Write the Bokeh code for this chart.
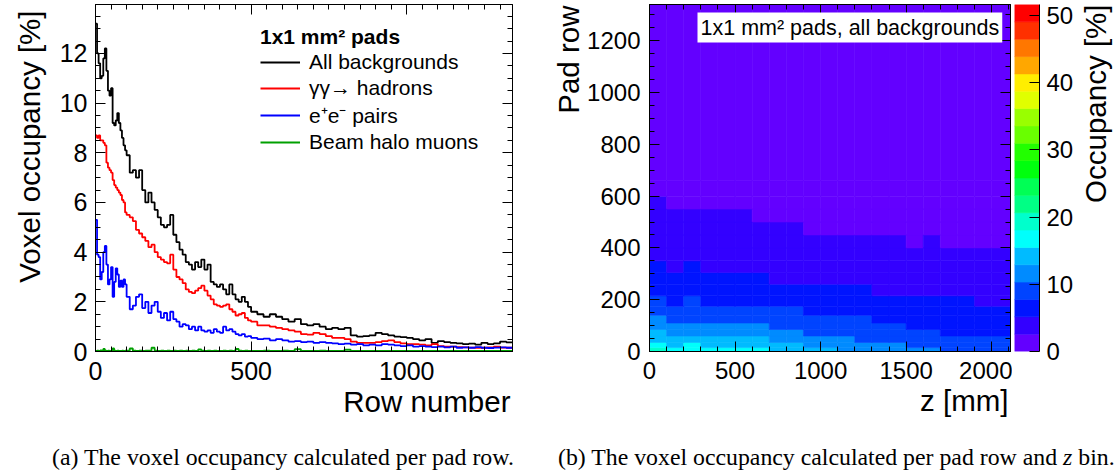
from bokeh.plotting import figure
from bokeh.models import (Range1d, LinearAxis, SingleIntervalTicker, Label, Legend, Title,
                          LegendItem, LinearColorMapper, ColumnDataSource, Div)
from bokeh.layouts import row, column
from bokeh.transform import transform
from bokeh.embed import file_html
from bokeh.resources import INLINE

FONT = "Liberation Sans"

# ---------------- left panel: voxel occupancy per pad row [%] ----------------
row_bin_edges = list(range(0, 100, 5)) + list(range(100, 500, 10)) + list(range(500, 1341, 20))

occ_all = [13.2, 12.0, 11.6, 11.0, 11.1, 11.8, 12.2, 11.3, 10.5, 10.3,
           10.6, 9.2, 9.1, 9.3, 9.6, 9.2, 8.9, 8.6, 8.3, 8.1,
           7.9, 7.2, 7.3, 7.0, 7.3, 6.5, 6.0, 6.4, 6.0, 5.7,
           5.4, 5.1, 5.0, 5.1, 5.5, 4.7, 4.4, 4.1, 3.9, 3.6,
           3.5, 3.3, 3.6, 3.4, 3.7, 3.3, 3.5, 2.8, 2.7, 2.6,
           2.7, 2.5, 2.3, 2.7, 2.3, 2.1, 2.0, 2.2, 2.0, 1.8,
           1.6, 1.5, 1.4, 1.5, 1.4, 1.3, 1.2, 1.3, 1.1, 1.05,
           1.1, 1.0, 0.9, 0.95, 0.9, 0.95, 0.65, 0.6, 0.62, 0.65,
           0.75, 0.7, 0.65, 0.6, 0.58, 0.55, 0.5, 0.45, 0.5, 0.35,
           0.42, 0.38, 0.35, 0.33, 0.3, 0.32, 0.28, 0.35, 0.3, 0.33,
           0.4, 0.37]
occ_gg = [8.7, 8.6, 8.7, 8.5, 8.5, 8.4, 8.3, 7.6, 7.4, 7.3,
          7.2, 6.9, 6.7, 6.6, 6.5, 6.4, 6.3, 6.1, 6.0, 5.6,
          5.5, 5.4, 5.25, 4.9, 4.75, 4.6, 4.45, 4.2, 4.3, 4.0,
          3.8, 3.7, 3.6, 3.55, 3.9, 3.3, 3.0, 2.9, 2.75, 2.5,
          2.4, 2.35, 2.45, 2.55, 2.65, 2.45, 2.25, 2.1, 1.9, 1.85,
          1.8, 1.85, 1.9, 1.7, 1.6, 1.45, 1.5, 1.55, 1.35, 1.25,
          1.2, 1.05, 1.05, 1.0, 0.95, 0.9, 0.85, 0.8, 0.7, 0.68,
          0.75, 0.7, 0.62, 0.55, 0.55, 0.5, 0.4, 0.35, 0.35, 0.35,
          0.38, 0.42, 0.45, 0.38, 0.33, 0.3, 0.3, 0.28, 0.25, 0.3,
          0.22, 0.2, 0.2, 0.18, 0.17, 0.16, 0.15, 0.15, 0.17, 0.2,
          0.16, 0.15]
occ_pairs = [5.3, 3.9, 3.8, 2.9, 3.2, 4.0, 4.25, 3.5, 2.7, 2.9,
             3.4, 2.2, 2.8, 3.35, 3.1, 2.6, 2.85, 2.6, 2.9, 2.7,
             2.2, 1.7, 1.85, 2.2, 2.3, 1.75, 2.0, 1.55, 1.85, 2.0,
             1.6, 1.35, 1.55, 1.25, 1.6, 1.3, 1.2, 1.0, 1.1, 1.05,
             0.9, 1.0, 0.85, 1.0, 0.85, 0.8, 0.85, 0.75, 0.9, 0.8,
             0.75, 1.0, 0.85, 0.9, 0.8, 0.7, 0.65, 0.7, 0.6, 0.62,
             0.55, 0.5, 0.52, 0.45, 0.5, 0.45, 0.4, 0.42, 0.38, 0.4,
             0.35, 0.38, 0.35, 0.33, 0.3, 0.32, 0.28, 0.3, 0.25, 0.28,
             0.25, 0.3, 0.28, 0.25, 0.22, 0.25, 0.2, 0.22, 0.2, 0.18,
             0.2, 0.17, 0.2, 0.15, 0.17, 0.15, 0.18, 0.15, 0.14, 0.16,
             0.17, 0.15]
occ_halo = [0.02, 0.03, 0.02, 0.04, 0.03, 0.1, 0.03, 0.02, 0.03, 0.02,
            0.03, 0.12, 0.03, 0.02, 0.03, 0.02, 0.02, 0.03, 0.02, 0.03,
            0.03, 0.12, 0.03, 0.02, 0.03, 0.02, 0.03, 0.03, 0.15, 0.03,
            0.02, 0.03, 0.02, 0.03, 0.02, 0.03, 0.02, 0.03, 0.02, 0.03,
            0.02, 0.03, 0.02, 0.08, 0.03, 0.02, 0.03, 0.02, 0.03, 0.02,
            0.02, 0.03, 0.02, 0.03, 0.02, 0.1, 0.03, 0.02, 0.03, 0.02,
            0.02, 0.02, 0.03, 0.02, 0.02, 0.03, 0.02, 0.09, 0.02, 0.02,
            0.02, 0.03, 0.02, 0.02, 0.02, 0.07, 0.02, 0.02, 0.02, 0.02,
            0.02, 0.02, 0.02, 0.02, 0.02, 0.02, 0.02, 0.02, 0.02, 0.02,
            0.02, 0.02, 0.02, 0.02, 0.02, 0.02, 0.02, 0.02, 0.02, 0.02,
            0.02, 0.02]
series_labels = ["All backgrounds", "\u03b3\u03b3\u2192 hadrons", "e\u207ae\u207b pairs", "Beam halo muons"]
legend_title = "1x1 mm\u00b2 pads"

# ---------------- right panel: occupancy per pad row and z bin [%] ----------------
z_edges = list(range(0, 2001, 100)) + [2110]
pad_edges = [0, 15, 35, 60, 85, 110, 140, 175, 215, 260, 305, 350, 400, 450, 500, 550, 600, 660, 1340]
occ_map = [
    [18.2, 17.3, 17.8, 17.2, 17.6, 16.8, 16.5, 15.2, 14.9, 13.6, 13.4, 12.7, 12.6, 11.9, 11.8, 11.1, 11.0, 10.3, 10.2, 9.6, 9.5],
    [16.1, 15.3, 15.6, 15.2, 15.4, 14.9, 14.6, 13.6, 13.2, 12.2, 11.9, 11.3, 11.2, 10.6, 10.5, 9.9, 9.8, 9.2, 9.1, 8.6, 8.5],
    [14.6, 13.8, 14.1, 13.7, 13.9, 13.5, 13.2, 12.3, 12.0, 11.1, 10.9, 10.4, 10.3, 9.7, 9.7, 9.0, 9.0, 8.5, 8.4, 7.9, 7.8],
    [13.1, 12.3, 12.6, 12.2, 12.4, 12.0, 11.9, 11.1, 10.9, 10.1, 9.9, 9.4, 9.4, 8.8, 8.8, 8.2, 8.2, 7.7, 7.6, 7.1, 7.1],
    [11.7, 11.0, 11.3, 10.9, 11.1, 10.8, 10.7, 10.0, 9.8, 9.2, 9.1, 8.6, 8.6, 8.1, 8.1, 7.6, 7.6, 7.1, 7.1, 6.6, 6.6],
    [10.5, 9.8, 10.1, 9.7, 9.9, 9.6, 9.6, 9.0, 8.8, 8.3, 8.2, 7.8, 7.8, 7.4, 7.4, 6.9, 6.9, 6.5, 6.5, 6.1, 6.1],
    [9.3, 8.6, 8.9, 8.5, 8.7, 8.5, 8.4, 7.9, 7.8, 7.3, 7.3, 7.0, 7.0, 6.6, 6.6, 6.3, 6.3, 5.9, 5.9, 5.6, 5.6],
    [8.1, 7.5, 7.8, 7.4, 7.7, 7.4, 7.4, 6.9, 6.9, 6.4, 6.4, 6.1, 6.1, 5.8, 5.9, 5.5, 5.6, 5.3, 5.3, 5.0, 5.1],
    [7.1, 6.5, 6.8, 6.4, 6.7, 6.4, 6.4, 6.0, 6.0, 5.5, 5.5, 5.2, 5.3, 5.0, 5.1, 4.8, 4.9, 4.6, 4.7, 4.4, 4.4],
    [6.2, 5.6, 5.9, 5.5, 5.8, 5.5, 5.6, 5.1, 5.1, 4.7, 4.7, 4.5, 4.6, 4.3, 4.4, 4.1, 4.2, 3.9, 4.0, 3.8, 3.8],
    [5.5, 4.9, 5.2, 4.8, 5.1, 4.9, 4.9, 4.5, 4.4, 4.0, 4.0, 3.8, 3.9, 3.7, 3.8, 3.5, 3.6, 3.4, 3.5, 3.3, 3.3],
    [4.7, 4.2, 4.5, 4.2, 4.4, 4.2, 4.2, 3.8, 3.8, 3.4, 3.5, 3.2, 3.3, 3.1, 3.2, 3.0, 3.1, 2.9, 3.0, 2.7, 2.8],
    [4.0, 3.5, 3.8, 3.5, 3.7, 3.5, 3.5, 3.1, 3.2, 2.8, 2.9, 2.6, 2.8, 2.6, 2.7, 2.4, 2.6, 2.4, 2.5, 2.3, 2.4],
    [3.3, 2.9, 3.2, 2.9, 3.1, 2.9, 2.9, 2.6, 2.7, 2.4, 2.5, 2.2, 2.4, 2.2, 2.3, 2.1, 2.2, 2.0, 2.1, 2.0, 2.0],
    [2.8, 2.6, 2.7, 2.6, 2.7, 2.6, 2.4, 2.2, 2.3, 2.0, 2.1, 1.9, 2.0, 1.8, 1.9, 1.8, 1.8, 1.7, 1.8, 1.6, 1.7],
    [2.6, 2.2, 2.4, 2.1, 2.3, 2.1, 2.0, 1.9, 1.9, 1.8, 1.8, 1.7, 1.7, 1.6, 1.7, 1.6, 1.6, 1.5, 1.6, 1.5, 1.5],
    [2.0, 1.8, 2.1, 1.8, 1.9, 1.7, 1.7, 1.6, 1.6, 1.5, 1.5, 1.5, 1.4, 1.4, 1.4, 1.3, 1.4, 1.3, 1.3, 1.2, 1.3],
    [1.1, 1.0, 1.1, 1.0, 1.0, 1.0, 0.9, 0.9, 0.9, 0.9, 0.8, 0.8, 0.8, 0.8, 0.8, 0.8, 0.7, 0.7, 0.7, 0.7, 0.7],
]
map_label = "1x1 mm\u00b2 pads, all backgrounds"

# axis ranges / ticks
row_max = 1340
occ1_max = 13.97
z_max = 2110
pad_max = 1340
occ_max = 51.6

# ---------------- styles ----------------
line_colors = ["#000000", "#ff0000", "#0000ff", "#00a000"]
palette = ["#6300ff", "#3300ff", "#0014ff", "#0044ff", "#008bff", "#00bbff", "#00fffc",
           "#00ffcc", "#00ff85", "#00ff55", "#00ff0e", "#22ff00", "#69ff00", "#99ff00",
           "#e0ff00", "#ffee00", "#ffa700", "#ff7700", "#ff3000", "#ff0000"]
TICK = "25px"
TICK2 = "24px"
TITLE = "29.5px"


def style_axis(ax, size, standoff, labels=True, minor=True):
    ax.axis_line_color = "black"
    ax.axis_line_width = 1
    ax.major_tick_in = 10
    ax.major_tick_out = 0
    ax.minor_tick_in = 5 if minor else 0
    ax.minor_tick_out = 0
    ax.major_tick_line_color = "black"
    ax.minor_tick_line_color = "black"
    ax.major_label_text_font = FONT
    if labels:
        ax.major_label_text_color = "black"
        ax.major_label_text_font_size = size
        ax.major_label_standoff = standoff
    else:
        ax.major_label_text_color = None
        ax.major_label_text_font_size = "1px"
        ax.major_label_standoff = 0


def add_title(p, text, side, standoff, offset, valign="bottom"):
    p.add_layout(Title(text=text, align="right", vertical_align=valign, standoff=standoff,
                       offset=offset, text_font=FONT, text_font_size=TITLE,
                       text_font_style="normal", text_color="black"), side)


def base_fig(width, xr, yr, left, right, **kw):
    p = figure(width=width, height=420, x_range=xr, y_range=yr, toolbar_location=None,
               output_backend="svg", min_border_left=left, min_border_right=right,
               min_border_top=4, min_border_bottom=69, **kw)
    p.grid.visible = False
    return p


# ---------------- left figure ----------------
p1 = base_fig(545, Range1d(0, row_max), Range1d(0, occ1_max), 94, 33)
p1.outline_line_color = "black"
p1.xaxis.ticker = SingleIntervalTicker(interval=500, num_minor_ticks=10)
p1.yaxis.ticker = SingleIntervalTicker(interval=2, num_minor_ticks=4)
style_axis(p1.xaxis[0], TICK, 10)
style_axis(p1.yaxis[0], TICK, 8)
ax_top = LinearAxis(ticker=SingleIntervalTicker(interval=500, num_minor_ticks=10))
style_axis(ax_top, TICK, 0, labels=False)
p1.add_layout(ax_top, "above")
ax_right = LinearAxis(ticker=SingleIntervalTicker(interval=2, num_minor_ticks=4))
style_axis(ax_right, TICK, 0, labels=False)
p1.add_layout(ax_right, "right")

items = []
for vals, col, lab in zip([occ_all, occ_gg, occ_pairs, occ_halo], line_colors, series_labels):
    r = p1.step(x=row_bin_edges, y=vals + [vals[-1]], mode="after", line_color=col, line_width=1.8)
    items.append(LegendItem(label=lab, renderers=[r]))

leg = Legend(items=items, location=(165, 196), title=legend_title,
             title_text_font=FONT, title_text_font_size="21px", title_text_font_style="bold",
             title_text_color="black", title_standoff=0,
             label_text_font=FONT, label_text_font_size="21px", label_text_color="black",
             glyph_width=40, glyph_height=26, label_height=26, label_standoff=9,
             spacing=0, padding=0, margin=0, border_line_color=None, background_fill_alpha=0)
p1.add_layout(leg)

add_title(p1, "Voxel occupancy [%]", "left", 21, 6)
add_title(p1, "Row number", "below", 2, 2, valign="middle")

# ---------------- right figure: heat map ----------------
mapper = LinearColorMapper(palette=palette, low=0, high=occ_max)
cells = dict(left=[], right=[], bottom=[], top=[], occ=[])
for i, rowvals in enumerate(occ_map):
    for j, v in enumerate(rowvals):
        cells["left"].append(z_edges[j])
        cells["right"].append(z_edges[j + 1])
        cells["bottom"].append(pad_edges[i])
        cells["top"].append(pad_edges[i + 1])
        cells["occ"].append(v)

p2 = base_fig(467, Range1d(0, z_max), Range1d(0, pad_max), 104, 2)
p2.outline_line_color = "black"
p2.quad(left="left", right="right", bottom="bottom", top="top", source=ColumnDataSource(cells),
        fill_color=transform("occ", mapper), line_color=transform("occ", mapper), line_width=0.6)
p2.xaxis.ticker = SingleIntervalTicker(interval=500, num_minor_ticks=5)
p2.yaxis.ticker = SingleIntervalTicker(interval=200, num_minor_ticks=4)
style_axis(p2.xaxis[0], TICK2, 10)
style_axis(p2.yaxis[0], TICK2, 9)
ax2_top = LinearAxis(ticker=SingleIntervalTicker(interval=500, num_minor_ticks=5))
style_axis(ax2_top, TICK2, 0, labels=False)
p2.add_layout(ax2_top, "above")
ax2_right = LinearAxis(ticker=SingleIntervalTicker(interval=200, num_minor_ticks=4))
style_axis(ax2_right, TICK2, 0, labels=False)
p2.add_layout(ax2_right, "right")

p2.add_layout(Label(x=48, y=324, x_units="screen", y_units="screen", text=map_label,
                    text_align="left", text_baseline="middle", text_font=FONT,
                    text_font_size="21.5px", text_color="black",
                    background_fill_color="white", padding=3))
add_title(p2, "Pad row", "left", 0, 1)
add_title(p2, "z [mm]", "below", 2, 2, valign="middle")

# ---------------- colour bar ----------------
nlev = len(palette)
lev = [occ_max * k / nlev for k in range(nlev + 1)]
p3 = base_fig(64, Range1d(0, 1), Range1d(0, occ_max), 2, 37, y_axis_location="right")
p3.xaxis.visible = False
p3.outline_line_color = None
p3.quad(left=0, right=1, bottom=lev[:-1], top=lev[1:], fill_color=palette, line_color=palette,
        line_width=0.6)
p3.yaxis.ticker = SingleIntervalTicker(interval=10, num_minor_ticks=0)
style_axis(p3.yaxis[0], TICK2, 7, minor=False)

p4 = base_fig(41, Range1d(0, 1), Range1d(0, 1), 31, 0)
p4.axis.visible = False
p4.outline_line_color = None
add_title(p4, "Occupancy [%]", "left", 0, 0)

# ---------------- captions ----------------
cap = ("font-family:'Liberation Serif';font-size:23.8px;line-height:1.1;color:black;"
       "white-space:nowrap;position:absolute;top:19px;")
caption_html = ('<div style="position:relative;width:1117px;height:55px;">'
                f'<span style="{cap}left:47px;">(a) The voxel occupancy calculated per pad row.</span>'
                f'<span style="{cap}left:553px;">(b) The voxel occupancy calculated per pad row and '
                '<i>z</i> bin.</span></div>')
captions = Div(text=caption_html, width=1117, height=55)

layout = column(row(p1, p2, p3, p4), captions)
open("out.html", "w").write(file_html(layout, INLINE))
